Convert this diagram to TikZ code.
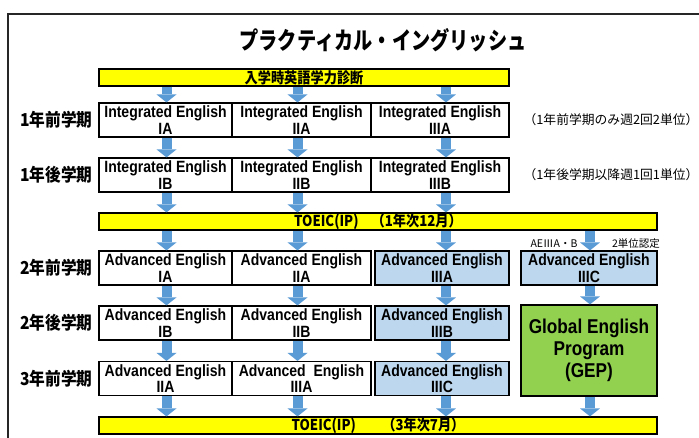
\documentclass[tikz,border=0pt]{standalone}
\usepackage{fontspec}
\usetikzlibrary{arrows.meta}
\newfontfamily\engf[FakeStretch=0.86]{Liberation Sans}
\newfontfamily\cjkf{Noto Sans CJK JP}
\newfontfamily\cjkn[FakeStretch=0.88]{Noto Sans CJK JP}
\newfontfamily\cjkt[FakeStretch=0.8]{Noto Sans CJK JP}
\definecolor{arrblue}{HTML}{5B9BD5}
\definecolor{cellblue}{HTML}{BDD7EE}
\definecolor{gepgreen}{HTML}{92D050}
\definecolor{baryellow}{HTML}{FFFF00}
\begin{document}
\begin{tikzpicture}[x=1pt,y=-1pt,
  cell/.style={draw=black, line width=1.2pt, inner sep=0pt, minimum height=34pt, align=center,
    font=\engf\bfseries\fontsize{16.3}{16.5}\selectfont},
  bluecell/.style={cell, fill=cellblue},
  bar/.style={draw=black, line width=1.2pt, fill=baryellow, inner sep=0pt, minimum height=17pt,
    font=\cjkn\bfseries\fontsize{15}{15}\selectfont},
  rowlab/.style={inner sep=0pt, font=\cjkn\bfseries\fontsize{17.8}{17.8}\selectfont},
  note/.style={inner sep=0pt, font=\cjkf\fontsize{12.8}{12.8}\selectfont},
  small/.style={inner sep=0pt, font=\cjkf\fontsize{10.5}{10.5}\selectfont},
  dnarr/.style={draw=arrblue, line width=10pt, -{Triangle[width=20pt,length=8pt,line width=0pt,fill=arrblue]}}
]
\useasboundingbox (0,0) rectangle (699,437);
\fill[white] (0,0) rectangle (699,437);
\draw[line width=1.5pt, black!85] (8,450) -- (8,14) -- (710,14);

\node (title) at (383,40) {\cjkt\bfseries\fontsize{24}{24}\selectfont プラクティカル・イングリッシュ};

% bars
\node[bar, minimum width=410pt] (bar1) at (304,77.5) {入学時英語学力診断};
\node[bar, minimum width=558pt] (bar2) at (378,221.5) {TOEIC(IP)　（1年次12月）};
\node[bar, minimum width=558pt] (bar3) at (378,425.5) {TOEIC(IP)　　（3年次7月）};

% row labels
\node[rowlab] (l1) at (56.5,120) {1年前学期};
\node[rowlab] (l2) at (56.5,175) {1年後学期};
\node[rowlab] (l3) at (56.5,268) {2年前学期};
\node[rowlab] (l4) at (56.5,323) {2年後学期};
\node[rowlab] (l5) at (56.5,378.5) {3年前学期};

% row 1
\node[cell, minimum width=133pt] (r1c1) at (165.5,120) {Integrated English\\IA};
\node[cell, minimum width=139pt] (r1c2) at (301.5,120) {Integrated English\\IIA};
\node[cell, minimum width=138pt] (r1c3) at (440,120) {Integrated English\\IIIA};
\node[note] (n1) at (611,120) {（1年前学期のみ週2回2単位）};
% row 2
\node[cell, minimum width=133pt] (r2c1) at (165.5,175) {Integrated English\\IB};
\node[cell, minimum width=139pt] (r2c2) at (301.5,175) {Integrated English\\IIB};
\node[cell, minimum width=138pt] (r2c3) at (440,175) {Integrated English\\IIIB};
\node[note] (n2) at (611,175) {（1年後学期以降週1回1単位）};
% row 3
\node[cell, minimum width=133pt] (r3c1) at (165.5,268) {Advanced English\\IA};
\node[cell, minimum width=139pt] (r3c2) at (301.5,268) {Advanced English\\IIA};
\node[bluecell, minimum width=134pt] (r3c3) at (442,268) {Advanced English\\IIIA};
\node[bluecell, minimum width=136pt] (r3c4) at (589,268) {Advanced English\\IIIC};
\node[small] (s1) at (554,244) {AEⅢA・B};
\node[small] (s2) at (636,244) {2単位認定};
% row 4
\node[cell, minimum width=133pt] (r4c1) at (165.5,323) {Advanced English\\IB};
\node[cell, minimum width=139pt] (r4c2) at (301.5,323) {Advanced English\\IIB};
\node[bluecell, minimum width=134pt] (r4c3) at (442,323) {Advanced English\\IIIB};
% row 5
\node[cell, minimum width=133pt] (r5c1) at (165.5,378.5) {Advanced English\\IIA};
\node[cell, minimum width=139pt] (r5c2) at (301.5,378.5) {Advanced~~English\\IIIA};
\node[bluecell, minimum width=134pt] (r5c3) at (442,378.5) {Advanced English\\IIIC};
% GEP
\node[cell, fill=gepgreen, minimum width=136pt, minimum height=91pt,
  font=\engf\bfseries\fontsize{20}{22}\selectfont] (gep) at (589,350.5) {Global English\\Program\\(GEP)};

% arrow columns
\coordinate (a1) at (166.5,0);
\coordinate (a2) at (297.5,0);
\coordinate (a3) at (446,0);
\coordinate (a4) at (590,0);

\foreach \c in {1,2,3}{
  \draw[dnarr] (bar1.south -| a\c) -- (r1c\c.north -| a\c);
  \draw[dnarr] (r1c\c.south -| a\c) -- (r2c\c.north -| a\c);
  \draw[dnarr] (r2c\c.south -| a\c) -- (bar2.north -| a\c);
  \draw[dnarr] (bar2.south -| a\c) -- (r3c\c.north -| a\c);
  \draw[dnarr] (r3c\c.south -| a\c) -- (r4c\c.north -| a\c);
  \draw[dnarr] (r4c\c.south -| a\c) -- (r5c\c.north -| a\c);
  \draw[dnarr] (r5c\c.south -| a\c) -- (bar3.north -| a\c);
}
\draw[dnarr] (bar2.south -| a4) -- (r3c4.north -| a4);
\draw[dnarr] (r3c4.south -| a4) -- (gep.north -| a4);
\draw[dnarr] (gep.south -| a4) -- (bar3.north -| a4);
\end{tikzpicture}
\end{document}
